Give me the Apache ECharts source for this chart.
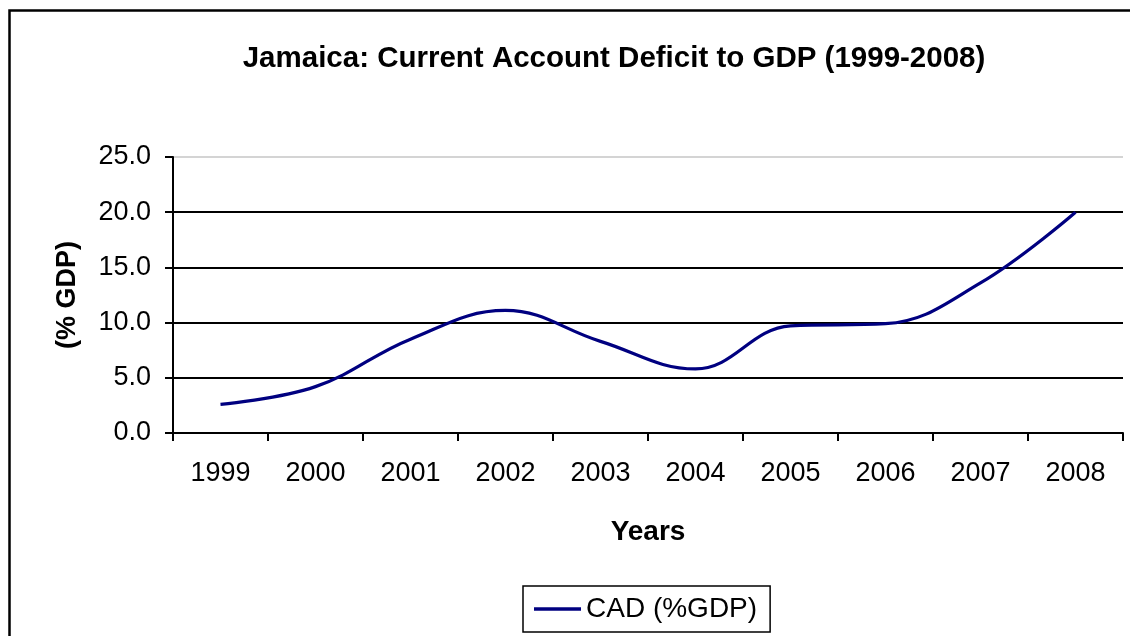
<!DOCTYPE html>
<html>
<head>
<meta charset="utf-8">
<script src="https://cdn.jsdelivr.net/npm/echarts@6/dist/echarts.min.js"></script>
<style>
html,body{margin:0;padding:0;background:#fff;}
#chart{width:1130px;height:636px;}
</style>
</head>
<body>
<div id="chart"></div>
<script>
var titleText = 'Jamaica: Current Account Deficit to GDP (1999-2008)';
var years = ['1999','2000','2001','2002','2003','2004','2005','2006','2007','2008'];
var cadValues = [2.6, 4.2, 8.5, 11.1, 8.3, 5.8, 9.7, 9.9, 13.6, 20.0];
var seriesName = 'CAD (%GDP)';
var yAxisName = '(% GDP)';
var xAxisName = 'Years';

var FONT = '"Liberation Sans", Arial, sans-serif';
var chart = echarts.init(document.getElementById('chart'));
chart.setOption({
  animation: false,
  backgroundColor: '#fff',
  graphic: [{
    type: 'rect',
    shape: {x: 9.5, y: 10.5, width: 1300, height: 800},
    style: {fill: 'none', stroke: '#000', lineWidth: 2.5},
    silent: true
  }],
  title: {
    text: titleText,
    left: 609, top: 39,
    textAlign: 'center',
    textStyle: {fontFamily: FONT, fontWeight: 'bold', fontSize: 29.5, color: '#000'}
  },
  legend: {
    data: [{name: seriesName, icon: 'rect'}],
    left: 523, top: 586,
    itemWidth: 47, itemHeight: 3.5,
    padding: [9, 13, 9, 11],
    borderColor: '#000', borderWidth: 1.5,
    textStyle: {fontFamily: FONT, fontSize: 28, color: '#000'}
  },
  grid: {left: 173, right: 7, top: 157, bottom: 203, containLabel: false},
  xAxis: {
    type: 'category',
    data: years,
    boundaryGap: true,
    name: xAxisName,
    nameLocation: 'middle',
    nameGap: 85,
    nameTextStyle: {fontFamily: FONT, fontWeight: 'bold', fontSize: 28, color: '#000'},
    axisLine: {lineStyle: {color: '#000', width: 2}},
    axisTick: {show: true, length: 8, inside: false, alignWithLabel: false, lineStyle: {color: '#000', width: 2}},
    axisLabel: {fontFamily: FONT, fontSize: 27, color: '#000', margin: 27, interval: 0},
    splitLine: {show: false}
  },
  yAxis: {
    type: 'value',
    min: 0, max: 25, interval: 5,
    name: yAxisName,
    nameLocation: 'middle',
    nameGap: 92,
    nameRotate: 90,
    nameTextStyle: {fontFamily: FONT, fontWeight: 'bold', fontSize: 27, color: '#000'},
    axisLine: {show: true, lineStyle: {color: '#000', width: 2}},
    axisTick: {show: true, length: 8, inside: false, lineStyle: {color: '#000', width: 2}},
    axisLabel: {fontFamily: FONT, fontSize: 27, color: '#000', margin: 22,
      formatter: function (v) { return v.toFixed(1); }},
    splitLine: {show: true, lineStyle: {color: ['#000','#000','#000','#000','#000','#d4d4d4'], width: 2}}
  },
  series: [{
    name: seriesName,
    type: 'line',
    data: cadValues,
    smooth: 0.4,
    symbol: 'none',
    lineStyle: {color: '#000080', width: 3.2},
    itemStyle: {color: '#000080'}
  }]
});
</script>
</body>
</html>
